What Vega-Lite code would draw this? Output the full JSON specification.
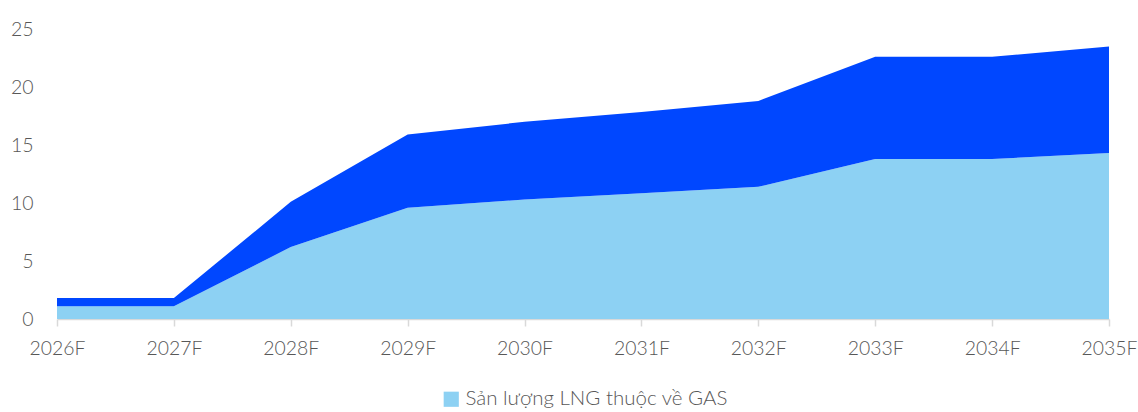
{
  "$schema": "https://vega.github.io/schema/vega-lite/v6.json",
  "width": 1052,
  "height": 290,
  "autosize": "none",
  "padding": {"left": 57, "top": 29, "right": 29, "bottom": 93},
  "background": "white",
  "config": {
    "view": {"stroke": null},
    "font": "Lato",
    "axis": {"labelFont": "Lato", "labelColor": "#575757", "labelFontWeight": 300}
  },
  "data": {
    "values": [
      {"year": "2026F", "series": "Sản lượng LNG thuộc về GAS", "value": 1.1},
      {"year": "2027F", "series": "Sản lượng LNG thuộc về GAS", "value": 1.1},
      {"year": "2028F", "series": "Sản lượng LNG thuộc về GAS", "value": 6.2},
      {"year": "2029F", "series": "Sản lượng LNG thuộc về GAS", "value": 9.6},
      {"year": "2030F", "series": "Sản lượng LNG thuộc về GAS", "value": 10.3},
      {"year": "2031F", "series": "Sản lượng LNG thuộc về GAS", "value": 10.85},
      {"year": "2032F", "series": "Sản lượng LNG thuộc về GAS", "value": 11.4},
      {"year": "2033F", "series": "Sản lượng LNG thuộc về GAS", "value": 13.8},
      {"year": "2034F", "series": "Sản lượng LNG thuộc về GAS", "value": 13.8},
      {"year": "2035F", "series": "Sản lượng LNG thuộc về GAS", "value": 14.3},
      {"year": "2026F", "series": "Sản lượng LNG khác", "value": 0.7},
      {"year": "2027F", "series": "Sản lượng LNG khác", "value": 0.7},
      {"year": "2028F", "series": "Sản lượng LNG khác", "value": 3.9},
      {"year": "2029F", "series": "Sản lượng LNG khác", "value": 6.3},
      {"year": "2030F", "series": "Sản lượng LNG khác", "value": 6.7},
      {"year": "2031F", "series": "Sản lượng LNG khác", "value": 7.0},
      {"year": "2032F", "series": "Sản lượng LNG khác", "value": 7.4},
      {"year": "2033F", "series": "Sản lượng LNG khác", "value": 8.8},
      {"year": "2034F", "series": "Sản lượng LNG khác", "value": 8.8},
      {"year": "2035F", "series": "Sản lượng LNG khác", "value": 9.2}
    ]
  },
  "mark": {"type": "area", "interpolate": "linear"},
  "encoding": {
    "x": {
      "field": "year",
      "type": "ordinal",
      "scale": {"type": "point", "padding": 0},
      "axis": {
        "title": null,
        "labelAngle": 0,
        "labelFontSize": 19.4,
        "domainColor": "#d9d9d9",
        "domainWidth": 1.5,
        "tickColor": "#d9d9d9",
        "tickWidth": 1.5,
        "tickSize": 7,
        "labelPadding": 13,
        "grid": false
      }
    },
    "y": {
      "field": "value",
      "type": "quantitative",
      "stack": "zero",
      "scale": {"domain": [0, 25], "nice": false},
      "axis": {
        "title": null,
        "values": [0, 5, 10, 15, 20, 25],
        "labelFontSize": 19.5,
        "domain": false,
        "ticks": false,
        "grid": false,
        "labelPadding": 24
      }
    },
    "color": {
      "field": "series",
      "type": "nominal",
      "scale": {
        "domain": ["Sản lượng LNG thuộc về GAS", "Sản lượng LNG khác"],
        "range": ["#8DD1F3", "#0047FF"]
      },
      "legend": {
        "title": null,
        "values": ["Sản lượng LNG thuộc về GAS"],
        "orient": "none",
        "legendX": 384,
        "legendY": 360,
        "symbolType": "square",
        "symbolSize": 230,
        "symbolStrokeWidth": 0,
        "labelFontSize": 20.5,
        "labelFont": "Lato",
        "labelFontWeight": 300,
        "labelColor": "#575757",
        "labelLimit": 600
      }
    },
    "order": {"field": "series", "sort": "descending"}
  }
}
